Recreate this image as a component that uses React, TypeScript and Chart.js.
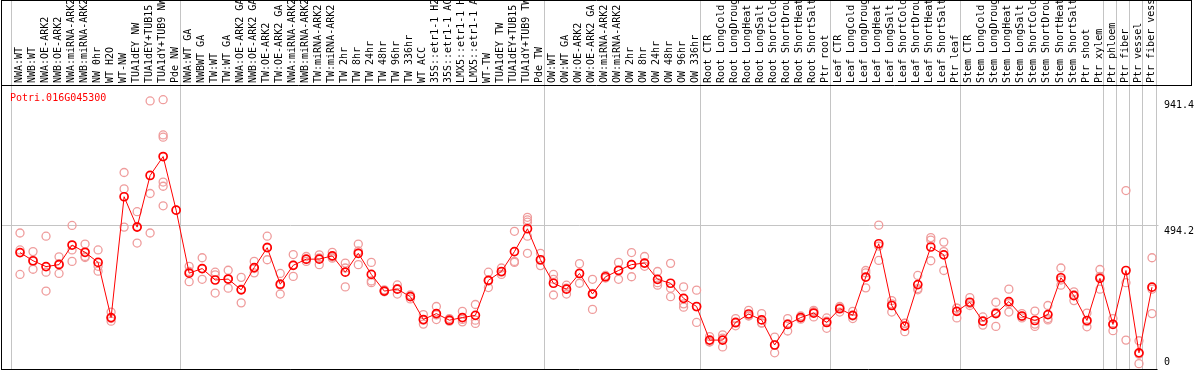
import React, { useEffect, useRef } from 'react';
import { Chart, registerables } from 'chart.js';

Chart.register(...registerables);

const categories: string[] = [
  'NWA:WT', 'NWB:WT', 'NWA:OE-ARK2', 'NWB:OE-ARK2', 'NWA:miRNA-ARK2', 'NWB:miRNA-ARK2', 'NW 0hr', 'WT H2O', 'WT-NW',
  'TUA1dEY NW', 'TUA1dEY+TUB15 NW', 'TUA1dY+TUB9 NW', 'Pde NW',
  'NWA:WT GA', 'NWBWT GA', 'TW:WT', 'TW:WT GA', 'NWA:OE-ARK2 GA', 'NWB:OE-ARK2 GA', 'TW:OE-ARK2', 'TW:OE-ARK2 GA',
  'NWA:miRNA-ARK2 GA', 'NWB:miRNA-ARK2 GA', 'TW:miRNA-ARK2', 'TW:miRNA-ARK2 GA', 'TW 2hr', 'TW 8hr', 'TW 24hr',
  'TW 48hr', 'TW 96hr', 'TW 336hr', 'WT ACC', '35S::etr1-1 H2O', '35S::etr1-1 ACC', 'LMX5::etr1-1 H2O',
  'LMX5::etr1-1 ACC', 'WT-TW', 'TUA1dEY TW', 'TUA1dEY+TUB15 TW', 'TUA1dY+TUB9 TW', 'Pde TW',
  'OW:WT', 'OW:WT GA', 'OW:OE-ARK2', 'OW:OE-ARK2 GA', 'OW:miRNA-ARK2', 'OW:miRNA-ARK2 GA', 'OW 2hr', 'OW 8hr',
  'OW 24hr', 'OW 48hr', 'OW 96hr', 'OW 336hr',
  'Root CTR', 'Root LongCold', 'Root LongDrought', 'Root LongHeat', 'Root LongSalt', 'Root ShortCold',
  'Root ShortDrought', 'Root ShortHeat', 'Root ShortSalt', 'Ptr root',
  'Leaf CTR', 'Leaf LongCold', 'Leaf LongDrought', 'Leaf LongHeat', 'Leaf LongSalt', 'Leaf ShortCold',
  'Leaf ShortDrought', 'Leaf ShortHeat', 'Leaf ShortSalt', 'Ptr leaf',
  'Stem CTR', 'Stem LongCold', 'Stem LongDrought', 'Stem LongHeat', 'Stem LongSalt', 'Stem ShortCold',
  'Stem ShortDrought', 'Stem ShortHeat', 'Stem ShortSalt', 'Ptr shoot', 'Ptr xylem',
  'Ptr phloem', 'Ptr fiber', 'Ptr vessel', 'Ptr fiber vessel',
];

const groupSizes: number[] = [13, 28, 12, 10, 10, 11, 1, 1, 1, 1];

const meanValues: number[] = [
  397.5, 368.5, 347.6, 354.6, 424.3, 398.5, 362.6, 166.3, 596.2, 488.1, 671.9, 739.2, 548.5,
  324.3, 340.6, 299.9, 303.3, 265.0, 344.1, 414.9, 284.9, 352.2, 374.1, 374.1, 386.0, 327.7, 395.0, 319.7,
  260.5, 267.4, 240.6, 159.3, 180.3, 156.9, 166.3, 174.3, 298.8, 330.2, 401.0, 482.2, 372.0,
  288.4, 267.4, 323.2, 250.0, 311.4, 333.7, 354.6, 360.2, 302.3, 288.4, 234.7, 205.7,
  86.1, 86.1, 148.9, 178.9, 157.9, 68.7, 141.9, 166.3, 182.4, 148.9,
  197.7, 174.3, 310.3, 428.9, 209.2, 136.0, 283.5, 417.4, 389.5, 188.3,
  220.7, 153.4, 180.3, 223.1, 171.9, 155.9, 176.8, 307.9, 244.1, 155.9, 305.8,
  141.9, 333.7, 40.8, 274.4,
];

const replicateValues: number[][] = [
  [467.2, 406.9, 319.7], [401.0, 366.1, 338.2], [455.7, 327.7, 260.5], [382.5, 358.1, 323.2],
  [494.1, 406.9, 366.1], [427.8, 383.5, 380.0], [406.9, 348.7, 331.2], [185.8, 162.8, 153.4],
  [682.4, 624.1, 488.1], [542.9, 490.2, 431.3], [937.0, 607.7, 467.2],
  [941.4, 815.9, 807.9, 648.5, 633.5, 563.8], [548.5],
  [348.7, 330.2, 293.9], [379.0, 340.3, 302.3], [327.7, 318.3, 253.5], [334.7, 304.4, 270.9],
  [309.3, 267.1, 218.6], [366.1, 340.6, 325.3], [455.7, 417.0, 372.0], [323.2, 281.0, 250.0],
  [390.5, 353.2, 312.8], [383.5, 373.1, 366.1], [389.5, 378.6, 354.6], [398.5, 381.8, 377.6],
  [360.2, 342.7, 275.4], [427.8, 403.1, 354.6], [362.6, 296.4, 290.4], [265.0, 260.5, 258.0],
  [282.4, 269.5, 250.0], [246.5, 242.7, 232.6], [176.8, 156.9, 143.0], [205.7, 175.7, 159.3],
  [162.8, 154.5, 153.4], [188.3, 159.7, 151.0], [212.7, 156.9, 145.4], [327.7, 295.7, 273.0],
  [342.7, 327.7, 319.7], [473.1, 366.1, 362.6], [523.0, 513.6, 505.6, 455.7, 395.0],
  [395.0, 369.6, 351.1],
  [319.7, 302.3, 246.5], [281.4, 270.9, 250.0], [358.1, 323.2, 288.4], [302.3, 252.4, 195.3],
  [316.2, 311.0, 306.8], [362.6, 336.1, 302.3], [397.5, 355.0, 311.4], [383.5, 360.2, 348.7],
  [330.2, 290.4, 281.4], [359.1, 270.9, 240.6], [275.4, 215.1, 203.3], [263.9, 204.3, 148.9],
  [98.7, 80.2, 79.1], [104.6, 93.1, 61.7], [162.8, 146.4, 137.0], [191.8, 172.9, 171.9],
  [180.3, 147.5, 146.4], [96.6, 68.7, 40.8], [162.8, 144.0, 118.5], [171.9, 166.3, 160.4],
  [191.8, 187.2, 168.4], [164.9, 153.4, 128.0],
  [205.7, 201.2, 185.8], [188.3, 171.9, 162.8], [333.7, 325.3, 272.0], [495.1, 420.8, 369.6],
  [226.6, 215.1, 185.8], [146.4, 145.4, 116.1], [316.2, 269.5, 265.0], [450.8, 441.8, 368.5],
  [434.8, 401.0, 333.7], [199.8, 199.8, 164.9],
  [237.1, 216.2, 209.2], [168.4, 152.4, 139.5], [220.7, 184.8, 134.9], [267.4, 216.2, 185.8],
  [180.3, 170.9, 164.9], [189.3, 143.0, 134.9], [209.2, 162.8, 157.9], [342.7, 299.9, 281.4],
  [258.0, 247.6, 226.6], [182.4, 151.7, 133.5], [337.2, 312.8, 267.4],
  [162.8, 143.0, 119.6], [618.2, 290.4, 86.1], [83.7, 36.3, 2.4], [379.0, 267.4, 180.3],
];

const yTickValues: number[] = [0, 494.2, 941.4];
const yTickLabels: string[] = ['0', '494.2', '941.4'];
const yAxisMax = 993.7;
const chartTitle = 'Potri.016G045300';

const MONO = "'DejaVu Sans Mono', 'Liberation Mono', monospace";

export default function App() {
  const canvasRef = useRef<HTMLCanvasElement | null>(null);

  useEffect(() => {
    const canvas = canvasRef.current;
    if (!canvas) return;

    const maxReps = Math.max(...replicateValues.map((r) => r.length));
    const repColor = '#ef9c9c';
    const repDatasets = Array.from({ length: maxReps }, (_, k) => ({
      label: 'rep' + (k + 1),
      data: replicateValues.map((r) => (r[k] === undefined ? null : r[k])),
      showLine: false,
      borderColor: repColor,
      backgroundColor: 'rgba(0,0,0,0)',
      pointRadius: 4,
      pointBorderWidth: 1.3,
      pointBorderColor: repColor,
      pointBackgroundColor: 'rgba(0,0,0,0)',
      clip: false as any,
    }));

    const meanDataset = {
      label: 'mean',
      data: meanValues,
      borderColor: '#ff0000',
      borderWidth: 1,
      tension: 0,
      pointRadius: 4,
      pointBorderWidth: 1.7,
      pointBorderColor: '#ff0000',
      pointBackgroundColor: 'rgba(0,0,0,0)',
      clip: false as any,
    };

    const framePlugin = {
      id: 'framePlugin',
      beforeDraw(chart: any) {
        const { ctx, scales } = chart;
        const x = scales.x;
        const y = scales.y;
        const n = categories.length;
        const step = (x.right - x.left) / n;
        const W = chart.width;
        const H = chart.height;
        ctx.save();
        ctx.strokeStyle = '#c4c4c4';
        ctx.lineWidth = 1;
        let k = 0;
        const bounds = [0];
        groupSizes.forEach((g) => {
          k += g;
          bounds.push(k);
        });
        bounds.forEach((b) => {
          const px = Math.round(x.left + b * step - 3) + 0.5;
          ctx.beginPath();
          ctx.moveTo(px, 0);
          ctx.lineTo(px, H);
          ctx.stroke();
        });
        const gy = Math.round(y.getPixelForValue(yTickValues[1])) + 0.5;
        ctx.beginPath();
        ctx.moveTo(1, gy);
        ctx.lineTo(x.right, gy);
        ctx.stroke();

        ctx.strokeStyle = '#000000';
        ctx.beginPath();
        ctx.moveTo(1, 0.5);
        ctx.lineTo(W - 2, 0.5);
        ctx.moveTo(1, Math.round(x.bottom) + 0.5);
        ctx.lineTo(W - 2, Math.round(x.bottom) + 0.5);
        ctx.moveTo(W - 2.5, 0);
        ctx.lineTo(W - 2.5, Math.round(x.bottom) + 0.5);
        ctx.moveTo(1.5, 0);
        ctx.lineTo(1.5, H);
        ctx.moveTo(1, H - 0.5);
        ctx.lineTo(x.right - 1, H - 0.5);
        ctx.stroke();
        ctx.restore();
      },
      afterDraw(chart: any) {
        const { ctx, scales } = chart;
        const x = scales.x;
        const y = scales.y;
        ctx.save();
        ctx.font = '10px ' + MONO;
        ctx.textBaseline = 'alphabetic';
        ctx.textAlign = 'left';
        ctx.fillStyle = '#ff0000';
        ctx.fillText(chartTitle, 10, y.top + 16);
        ctx.fillStyle = '#000000';
        yTickValues.forEach((v, i) => {
          const py = Math.min(y.getPixelForValue(v) + 8.5, chart.height - 5);
          ctx.fillText(yTickLabels[i], x.right + 5.5, py);
        });
        ctx.restore();
      },
    };

    const chart = new Chart(canvas, {
      type: 'line',
      data: {
        labels: categories,
        datasets: [meanDataset as any, ...(repDatasets as any[])],
      },
      options: {
        responsive: false,
        animation: false,
        devicePixelRatio: 1,
        events: [],
        layout: { padding: { left: 13.5, right: 35.5, top: 0, bottom: 0 } },
        plugins: {
          legend: { display: false },
          tooltip: { enabled: false },
          title: { display: false },
        },
        scales: {
          x: {
            type: 'category',
            position: 'top',
            offset: true,
            grid: { display: false, drawTicks: false },
            border: { display: false },
            ticks: {
              autoSkip: false,
              minRotation: 90,
              maxRotation: 90,
              padding: 2,
              labelOffset: 11,
              color: '#000000',
              font: { family: MONO, size: 10 },
            },
            afterFit: (s: any) => {
              s.height = 85;
            },
          },
          y: {
            type: 'linear',
            display: false,
            min: 0,
            max: yAxisMax,
          },
        },
      } as any,
      plugins: [framePlugin],
    });

    return () => {
      chart.destroy();
    };
  }, []);

  return (
    <div style={{ position: 'absolute', left: 0, top: 0, width: 1194, height: 370, background: '#ffffff' }}>
      <canvas ref={canvasRef} width={1194} height={370} style={{ display: 'block', width: 1194, height: 370 }} />
    </div>
  );
}
